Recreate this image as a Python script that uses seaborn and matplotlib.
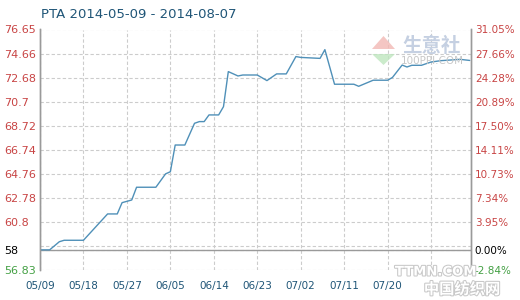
import matplotlib
matplotlib.use("Agg")
import matplotlib.pyplot as plt
import matplotlib.patheffects as pe
from matplotlib.patches import Polygon
import seaborn as sns
import pandas as pd

# ---- data ----
dates = ["2014-05-09", "2014-05-11", "2014-05-13", "2014-05-14", "2014-05-18",
         "2014-05-23", "2014-05-25", "2014-05-26", "2014-05-28", "2014-05-29",
         "2014-06-02", "2014-06-04", "2014-06-05", "2014-06-06", "2014-06-08",
         "2014-06-10", "2014-06-11", "2014-06-12", "2014-06-13", "2014-06-15",
         "2014-06-16", "2014-06-17", "2014-06-19", "2014-06-20", "2014-06-23",
         "2014-06-25", "2014-06-27", "2014-06-29", "2014-07-01", "2014-07-02",
         "2014-07-06", "2014-07-07", "2014-07-09", "2014-07-13", "2014-07-14",
         "2014-07-17", "2014-07-20", "2014-07-21", "2014-07-23", "2014-07-24",
         "2014-07-25", "2014-07-27", "2014-07-29", "2014-07-31", "2014-08-04",
         "2014-08-06"]
values = [58.49, 58.49, 59.16, 59.28, 59.28,
          61.45, 61.45, 62.38, 62.60, 63.65,
          63.65, 64.75, 64.93, 67.13, 67.13,
          68.92, 69.06, 69.06, 69.61, 69.61,
          70.29, 73.18, 72.82, 72.90, 72.90,
          72.44, 72.99, 72.99, 74.42, 74.35,
          74.27, 74.99, 72.14, 72.14, 71.97,
          72.47, 72.47, 72.70, 73.72, 73.56,
          73.70, 73.70, 73.97, 74.08, 74.19,
          74.10]

title = "PTA 2014-05-09 - 2014-08-07"
base_value = 58.49
y_ticks = [56.83, 58.49, 60.8, 62.78, 64.76, 66.74, 68.72, 70.7, 72.68, 74.66, 76.65]
left_labels = ["56.83", "58", "60.8", "62.78", "64.76", "66.74", "68.72", "70.7",
               "72.68", "74.66", "76.65"]
right_labels = ["-2.84%", "0.00%", "3.95%", "7.34%", "10.73%", "14.11%", "17.50%",
                "20.89%", "24.28%", "27.66%", "31.05%"]
extra_grid = [58.82]
x_tick_dates = ["2014-05-09", "2014-05-18", "2014-05-27", "2014-06-05", "2014-06-14",
                "2014-06-23", "2014-07-02", "2014-07-11", "2014-07-20", "2014-07-29"]
x_tick_labels = ["05/09", "05/18", "05/27", "06/05", "06/14", "06/23", "07/02",
                 "07/11", "07/20", ""]

sns.set_style("white")
plt.rcParams["font.family"] = ["DejaVu Sans", "Noto Sans CJK SC"]

RED = "#c84444"
GREEN = "#44a044"
BLUE_TXT = "#1f5577"
GRID = "#cccccc"
SPINE = "#9a9a9a"

W, H = 520, 300
fig = plt.figure(figsize=(W / 100, H / 100), dpi=100)
ax = fig.add_axes([40 / W, 30 / H, 430.7 / W, 240.5 / H])

df = pd.DataFrame({"date": pd.to_datetime(dates), "value": values})
sns.lineplot(data=df, x="date", y="value", ax=ax, color="#4f90b8", linewidth=1.0, zorder=5)

x0 = pd.Timestamp(dates[0])
ax.set_xlim(x0, x0 + pd.Timedelta(days=89.2))
ax.set_ylim(y_ticks[0], y_ticks[-1])

ax.set_xticks(pd.to_datetime(x_tick_dates))
ax.set_xticklabels(x_tick_labels, color=BLUE_TXT, fontsize=7.5)
ax.tick_params(axis="x", length=0, pad=8)

ax.set_yticks(y_ticks)
ax.set_yticklabels(left_labels, fontsize=8)
ax.set_yticks(extra_grid, minor=True)
ax.tick_params(axis="y", which="major", length=0, pad=26)
ax.tick_params(axis="y", which="minor", length=0)
for lab in ax.get_yticklabels():
    lab.set_horizontalalignment("left")
    t = lab.get_text()
    lab.set_color("black" if t == "58" else (GREEN if t == "56.83" else RED))

ax.grid(True, which="major", linestyle=(0, (3, 2)), color=GRID, linewidth=0.8)
ax.grid(True, which="minor", axis="y", linestyle=(0, (3, 2)), color=GRID, linewidth=0.8)
ax.axhline(base_value, color=SPINE, linewidth=1.0, zorder=3)

ax.set_xlabel("")
ax.set_ylabel("")

ax2 = ax.twinx()
ax2.set_ylim(y_ticks[0], y_ticks[-1])
ax2.set_yticks(y_ticks)
ax2.set_yticklabels(right_labels, fontsize=7.5)
ax2.tick_params(axis="y", length=0, pad=3)
for lab in ax2.get_yticklabels():
    t = lab.get_text()
    lab.set_color("black" if t == "0.00%" else (GREEN if t.startswith("-") else RED))

for a in (ax, ax2):
    a.spines["top"].set_visible(False)
    a.spines["bottom"].set_visible(False)
    a.spines["left"].set_color(SPINE)
    a.spines["right"].set_color(SPINE)
    a.spines["left"].set_linewidth(1.0)
    a.spines["right"].set_linewidth(1.0)

fig.text(41 / W, 1 - 15 / H, title, color=BLUE_TXT, fontsize=9.5, va="center", ha="left")

# watermarks
fig.patches.append(Polygon([[372 / W, 1 - 49 / H], [395 / W, 1 - 49 / H], [383.5 / W, 1 - 36 / H]],
                           closed=True, transform=fig.transFigure, facecolor="#f2b8b4",
                           edgecolor="none", zorder=10, alpha=0.8))
fig.patches.append(Polygon([[372 / W, 1 - 54 / H], [395 / W, 1 - 54 / H], [383.5 / W, 1 - 65 / H]],
                           closed=True, transform=fig.transFigure, facecolor="#bfe6bf",
                           edgecolor="none", zorder=10, alpha=0.8))
fig.text(432 / W, 1 - 46 / H, "生意社", family=["Noto Sans CJK SC"], fontsize=14,
         fontweight="bold", color="#c5d0e2", ha="center", va="center", zorder=10)
fig.text(432 / W, 1 - 61 / H, "100PPI.COM", fontsize=7.5, color="#c8c8c8",
         ha="center", va="center", zorder=10)
fig.text(436 / W, 1 - 272 / H, "TTMN.COM", fontsize=9.5, fontweight="bold", color="white",
         ha="center", va="center", zorder=10,
         path_effects=[pe.withStroke(linewidth=1.5, foreground="#c8c8c8")])
fig.text(462 / W, 1 - 289 / H, "中国纺织网", family=["Noto Sans CJK SC"], fontsize=11,
         fontweight="bold", color="white", ha="center", va="center", zorder=10,
         path_effects=[pe.withStroke(linewidth=1.5, foreground="#c8c8c8")])

fig.savefig("out.png", dpi=100)
